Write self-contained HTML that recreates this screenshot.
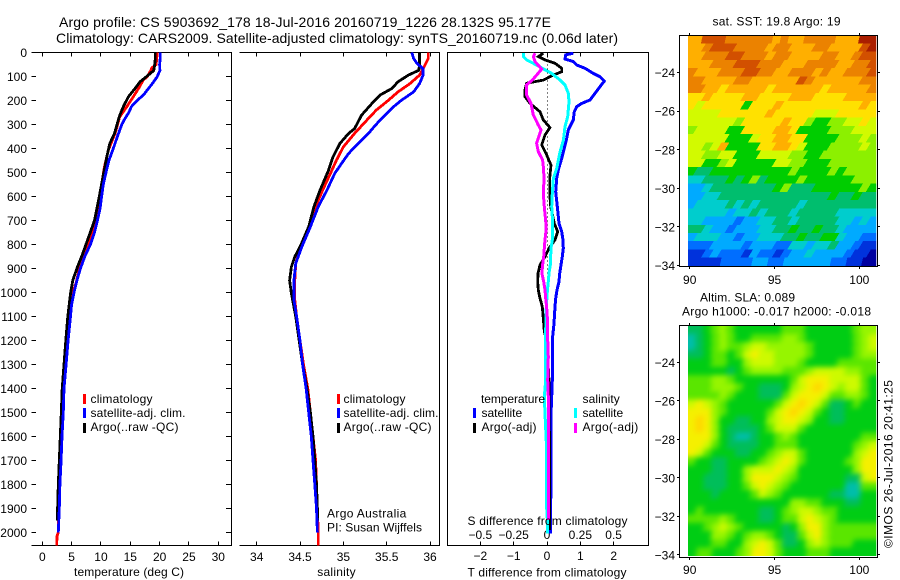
<!DOCTYPE html>
<html>
<head>
<meta charset="utf-8">
<title>Argo profile</title>
<style>
html,body{margin:0;padding:0;background:#fff;}
svg{display:block;}
text{font-family:"Liberation Sans",sans-serif;font-size:12px;fill:#000;}
.t14{font-size:14px;}
</style>
</head>
<body>
<svg id="chart" width="900" height="580" viewBox="0 0 900 580" xmlns="http://www.w3.org/2000/svg">
  <defs>
    <clipPath id="sst-clip"><rect x="688" y="36" width="188.3" height="230"/></clipPath>
    <clipPath id="sla-clip"><rect x="688" y="326" width="188.3" height="230"/></clipPath>
    <filter id="sla-blur" filterUnits="userSpaceOnUse" x="660" y="300" width="240" height="280" color-interpolation-filters="sRGB"><feGaussianBlur stdDeviation="2.6"/></filter>
  </defs>
  <text class="t14" x="59" y="27" textLength="492" lengthAdjust="spacing">Argo profile: CS 5903692_178 18-Jul-2016 20160719_1226 28.132S 95.177E</text>
  <text class="t14" x="56" y="43" textLength="562" lengthAdjust="spacing">Climatology: CARS2009. Satellite-adjusted climatology: synTS_20160719.nc (0.06d later)</text>

  <g id="frames" stroke="#000" stroke-width="1" fill="none" shape-rendering="crispEdges">
    <path d="M31.5 52.5H231.5V545.5H31.5"/>
    <path d="M239.5 52.5H439.5V545.5H239.5"/>
    <path d="M447.5 52.5H648.5V545.5H447.5Z"/>
    <path d="M679.5 35.5H877.5V266.5H679.5Z"/>
    <path d="M679.5 325.5H877.5V557.5H679.5Z"/>
  </g>
  <g id="layer-maps">
    <g clip-path="url(#sst-clip)"><g id="sst-cells"></g></g>
    <g clip-path="url(#sla-clip)"><g id="sla-cells" filter="url(#sla-blur)"></g></g>
  </g>
  <g id="layer-ticks"></g>
  <g id="layer-series"></g>

  <text x="74" y="576" textLength="110" lengthAdjust="spacing">temperature (deg C)</text>
  <text x="317.3" y="576" textLength="38.3" lengthAdjust="spacing">salinity</text>
  <text x="467.5" y="525" textLength="160" lengthAdjust="spacing">S difference from climatology</text>
  <text x="467.5" y="576.5" textLength="159" lengthAdjust="spacing">T difference from climatology</text>

  <g>
    <rect x="83" y="394" width="3" height="10" fill="#ff0000"/>
    <text x="90.5" y="403" textLength="62" lengthAdjust="spacing">climatology</text>
    <rect x="83" y="408" width="3" height="10" fill="#0000ff"/>
    <text x="90.5" y="417" textLength="95" lengthAdjust="spacing">satellite-adj. clim.</text>
    <rect x="83" y="423" width="3" height="10" fill="#000"/>
    <text x="90.5" y="431" textLength="88" lengthAdjust="spacing">Argo(..raw -QC)</text>
  </g>
  <g>
    <rect x="337" y="394" width="3" height="10" fill="#ff0000"/>
    <text x="343.5" y="403" textLength="62" lengthAdjust="spacing">climatology</text>
    <rect x="337" y="408" width="3" height="10" fill="#0000ff"/>
    <text x="343.5" y="417" textLength="95" lengthAdjust="spacing">satellite-adj. clim.</text>
    <rect x="337" y="423" width="3" height="10" fill="#000"/>
    <text x="343.5" y="431" textLength="88" lengthAdjust="spacing">Argo(..raw -QC)</text>
  </g>
  <text x="327" y="517.5" textLength="79.3" lengthAdjust="spacing">Argo Australia</text>
  <text x="327" y="531.5" textLength="95" lengthAdjust="spacing">PI: Susan Wijffels</text>

  <g>
    <text x="481" y="403" textLength="64" lengthAdjust="spacing">temperature</text>
    <rect x="473" y="408" width="3" height="10" fill="#0000ff"/>
    <text x="481.5" y="417" textLength="40.7" lengthAdjust="spacing">satellite</text>
    <rect x="473" y="423" width="3" height="10" fill="#000"/>
    <text x="481.5" y="431" textLength="55" lengthAdjust="spacing">Argo(-adj)</text>
    <text x="582.5" y="403" textLength="37.3" lengthAdjust="spacing">salinity</text>
    <rect x="574" y="408" width="3" height="10" fill="#00ffff"/>
    <text x="582.5" y="417" textLength="40.7" lengthAdjust="spacing">satellite</text>
    <rect x="574" y="423" width="3" height="10" fill="#ff00ff"/>
    <text x="582.5" y="431" textLength="55.7" lengthAdjust="spacing">Argo(-adj)</text>
  </g>

  <text x="712.5" y="25.5" textLength="128" lengthAdjust="spacing">sat. SST: 19.8 Argo: 19</text>
  <text x="700" y="301.5" textLength="95" lengthAdjust="spacing">Altim. SLA: 0.089</text>
  <text x="682" y="315.5" textLength="189" lengthAdjust="spacing">Argo h1000: -0.017 h2000: -0.018</text>
  <text transform="translate(892.5 548) rotate(-90)" textLength="168" lengthAdjust="spacing">©IMOS 26-Jul-2016 20:41:25</text>
</svg>

<script>
// ---- tick labels ----
var depthTicks = [0,100,200,300,400,500,600,700,800,900,1000,1100,1200,1300,1400,1500,1600,1700,1800,1900,2000];
var tempTicks = [0,5,10,15,20,25,30];
var salTicks = [34,34.5,35,35.5,36];
var tDiffTicks = [-2,-1,0,1,2];
var sDiffTicks = [-0.5,-0.25,0,0.25,0.5];
var lonTicks = [90,95,100];
var latTicks = [-24,-26,-28,-30,-32,-34];

// ---- temperature profiles (depth m, deg C) ----
var tempClimDepth = [0,50,65,75,100,115,146,185,226,268,337,407,476,615,685,754,824,893,962,1001,1100,1200,1300,1400,1500,1600,1700,1800,1900,2000,2015,2054];
var tempClim = [19.6,19.4,18.65,18.5,17.9,17.2,16.5,15.5,14.4,13.2,12.4,11.25,10.6,9.66,9.26,8.4,7.55,6.4,5.74,5.17,4.6,4.2,3.85,3.6,3.4,3.2,3.1,2.95,2.8,2.73,2.5,2.45];
var tempSatDepth = [0,25,50,75,100,125,150,175,200,225,250,275,300,350,400,450,500,550,600,650,700,750,800,850,900,950,1000,1050,1100,1200,1300,1400,1500,1600,1700,1800,1900,2000];
var tempSat = [20.1,20.1,20.0,20.05,19.6,18.9,18.1,17.3,16.2,15.2,14.75,14.1,13.55,12.8,12.1,11.35,10.85,10.4,10.1,9.85,9.4,8.9,8.2,7.25,6.5,5.9,5.4,5.0,4.8,4.4,4.05,3.7,3.58,3.35,3.2,3.0,2.9,2.72];
var tempArgoDepth = [0,25,50,75,94,122,150,185,226,268,337,379,435,504,615,700,837,893,949,1004,1100,1200,1300,1400,1500,1600,1700,1800,1900,1950];
var tempArgo = [19.26,19.26,19.15,19.0,18.07,16.65,15.8,14.66,13.8,13.1,12.3,11.5,11,10.45,9.6,8.9,6.9,6,5.2,4.8,4.35,4,3.7,3.4,3.24,3.07,2.9,2.73,2.6,2.55];

// ---- salinity profiles ----
var salClimDepth = [0,25,60,94,129,164,199,240,282,337,393,449,504,574,643,726,810,879,949,1032,1100,1200,1300,1400,1500,1600,1700,1800,1900,2000,2054];
var salClim = [35.98,35.98,35.93,35.88,35.77,35.63,35.52,35.38,35.27,35.13,35.0,34.92,34.85,34.76,34.68,34.6,34.51,34.45,34.44,34.44,34.46,34.5,34.54,34.59,34.62,34.65,34.68,34.69,34.7,34.71,34.71];
var salSatDepth = [0,25,46,67,94,129,164,199,226,261,303,337,379,421,462,504,574,643,726,810,879,949,1032,1100,1200,1300,1400,1500,1600,1700,1800,1900,2000];
var salSat = [35.79,35.81,35.85,35.92,35.92,35.88,35.81,35.67,35.58,35.48,35.37,35.29,35.17,35.06,34.98,34.9,34.81,34.71,34.62,34.52,34.45,34.43,34.43,34.46,34.5,34.53,34.57,34.6,34.63,34.65,34.67,34.69,34.7];
var salArgoDepth = [0,50,74,94,122,150,178,212,261,317,337,379,435,490,574,643,726,810,851,893,949,1004,1100,1200,1300,1400,1500,1600,1700,1800,1900,1950];
var salArgo = [35.88,35.88,35.87,35.75,35.63,35.56,35.42,35.33,35.21,35.13,35.06,34.96,34.88,34.83,34.73,34.66,34.6,34.5,34.44,34.40,34.38,34.4,34.45,34.49,34.53,34.58,34.62,34.65,34.67,34.69,34.70,34.705];

// ---- differences from climatology ----
var tDiffSatDepth = [3,10,27,38,52,66,87,101,119,142,170,198,212,226,247,281,323,358,399,441,490,524,580,642,712,747,781,816,851,885,920,955,990,1024,1059,1129,1198,1365,1434,1504,1781,2004];
var tDiffSat = [0.79,0.56,0.54,0.79,0.89,1.14,1.39,1.59,1.72,1.59,1.44,1.29,1.04,0.89,0.82,0.79,0.64,0.59,0.52,0.44,0.34,0.29,0.26,0.31,0.36,0.44,0.48,0.49,0.46,0.42,0.38,0.36,0.30,0.26,0.24,0.21,0.16,0.16,0.14,0.12,0.12,0.10];
var tDiffArgoDepth = [3,17,31,45,66,80,97,115,128,156,184,212,247,281,313,344,385,427,469,524,587,642,712,747,781,816,851,885,920,955,990,1024,1059,1129,1163,1198,1267,1365,1781,1990];
var tDiffArgo = [-0.11,-0.26,-0.06,0.24,0.44,0.44,0.14,-0.11,-0.61,-0.66,-0.66,-0.51,-0.21,-0.11,0.09,-0.06,-0.16,-0.01,0.12,0.08,0.08,0.11,0.22,0.32,0.24,0.06,-0.06,-0.21,-0.27,-0.28,-0.26,-0.21,-0.14,-0.10,-0.08,-0.01,0.02,0.06,0.08,0.08];
var sDiffSatDepth = [3,17,31,45,68,87,115,135,170,205,267,309,365,413,483,524,587,642,712,747,781,816,885,920,955,990,1059,1129,1198,1267,1365,1434,1504,1650,1893,1948,2004];
var sDiffSat = [-0.178,-0.178,-0.153,-0.103,-0.028,0.035,0.098,0.135,0.16,0.165,0.155,0.135,0.123,0.098,0.073,0.048,0.04,0.035,0.043,0.043,0.04,0.03,0.025,0.015,0.01,0.003,-0.005,-0.008,-0.013,-0.01,-0.01,-0.02,-0.015,-0.003,-0.003,0.003,0.003];
var sDiffArgoDepth = [3,17,38,69,94,115,135,177,212,260,302,323,378,413,448,490,538,587,642,712,747,781,816,851,885,920,955,990,1024,1059,1129,1198,1267,1365,1434,1504,1700,1948];
var sDiffArgo = [-0.09,-0.103,-0.09,-0.04,-0.078,-0.11,-0.153,-0.153,-0.12,-0.103,-0.065,-0.045,-0.078,-0.065,-0.033,-0.025,-0.023,-0.028,-0.02,-0.008,-0.008,-0.015,-0.02,-0.025,-0.033,-0.038,-0.025,-0.015,-0.01,-0.003,0.005,0.005,0.01,0.005,0.01,0.013,0.01,0.01];
var zeroLineDepth = [0,1300];

// ---- map data: binned SST and SLA, rows north to south ----
var sstBins = [
[10,10,12,12,12,11,11,11,11,11,11,10,11,10,10,11,11,11,11,10,10,10,13,13],
[10,10,11,12,12,12,11,11,11,11,10,11,11,10,10,10,11,11,10,10,10,10,12,13],
[10,10,11,11,11,12,12,11,11,11,10,11,11,10,10,10,10,11,11,10,10,11,12,12],
[10,10,10,11,11,11,12,12,12,11,11,11,10,10,10,11,11,11,11,10,10,11,11,12],
[11,10,10,10,11,11,11,12,12,11,11,10,10,11,11,11,10,11,10,10,11,11,11,12],
[11,11,10,10,10,10,11,11,10,10,10,10,10,10,12,11,10,10,10,10,10,10,11,11],
[11,11,10,10,9,10,10,10,10,10,9,10,10,10,10,10,10,9,10,10,10,10,10,11],
[9,9,10,9,9,9,9,10,10,9,9,9,9,10,10,10,9,9,9,9,10,10,10,10],
[9,8,9,9,9,9,9,6,9,9,9,10,9,9,9,9,9,9,9,9,9,9,10,9],
[8,8,8,8,9,9,9,9,9,9,10,9,9,9,9,9,8,8,8,9,9,9,9,9],
[8,8,8,8,8,8,7,9,9,9,9,9,10,9,9,7,6,6,7,7,8,8,9,8],
[7,8,8,8,8,6,6,9,9,9,9,10,10,9,6,6,6,6,7,7,7,8,8,8],
[8,8,8,8,8,6,6,6,8,9,9,10,10,9,9,6,6,6,6,7,7,7,8,7],
[8,8,7,8,10,6,6,6,6,9,9,10,10,9,8,6,6,6,7,7,7,7,8,7],
[8,8,7,7,8,8,6,6,6,8,8,8,8,7,7,6,6,7,7,7,7,7,7,7],
[8,8,6,6,7,8,6,6,6,6,6,8,8,7,7,6,6,6,7,7,7,7,7,7],
[6,5,5,6,6,6,6,6,6,6,6,6,6,7,6,6,6,6,7,6,7,7,7,7],
[4,4,5,5,5,6,5,6,7,5,6,6,6,6,7,6,6,6,6,6,6,7,7,7],
[3,3,4,5,5,5,5,5,5,5,5,6,7,5,5,5,6,6,6,6,6,6,7,6],
[3,3,4,4,5,5,5,5,5,5,5,5,5,5,5,5,5,5,6,5,5,6,5,5],
[3,4,4,4,4,5,4,5,4,5,5,5,5,5,4,5,5,5,5,5,5,5,5,5],
[4,4,4,4,4,3,4,4,5,4,5,5,5,4,5,5,5,5,5,4,4,4,4,4],
[4,4,3,3,3,3,2,3,3,4,4,5,5,4,5,5,5,5,5,4,4,3,4,3],
[5,5,4,3,3,2,3,3,3,4,4,5,5,6,5,5,6,5,5,4,3,3,3,3],
[3,4,4,4,3,3,2,3,3,4,4,4,5,5,6,5,5,6,6,4,3,3,2,2],
[2,2,2,3,3,3,3,2,3,3,3,2,2,4,4,3,4,4,5,3,3,2,1,1],
[1,1,2,3,2,2,2,1,3,2,2,1,2,3,3,4,3,3,3,3,2,1,1,0],
[1,1,1,1,2,2,2,2,3,3,2,2,3,3,3,3,3,3,2,2,1,1,0,0]
];
var slaBins = [
[1,1,2,3,4,3,2,2,2,2,2,2,3,3,3,2,2,2,2,2,2,3,4,4],
[0,1,2,3,4,3,2,2,3,3,3,3,4,4,3,2,2,2,2,2,2,3,4,5],
[0,1,2,3,4,3,3,4,5,5,4,4,4,4,4,3,2,2,2,2,2,3,4,5],
[1,1,2,3,3,2,3,5,6,5,5,4,4,4,4,3,2,2,2,2,2,3,4,4],
[2,2,2,3,3,2,2,4,5,5,5,4,4,4,3,2,2,2,2,3,3,3,3,3],
[2,2,2,2,2,1,2,3,4,4,4,4,3,3,3,4,5,5,5,5,4,4,3,3],
[3,3,3,4,4,3,2,2,2,2,2,2,2,3,5,6,6,6,5,5,5,5,3,2],
[3,3,3,4,4,4,3,2,2,1,1,1,2,4,5,6,7,6,5,4,5,5,3,2],
[3,3,3,3,4,3,2,2,2,1,1,1,3,5,6,6,6,5,3,3,4,4,3,2],
[5,6,5,4,3,2,2,2,2,2,2,3,5,6,7,6,5,3,1,1,2,3,2,2],
[6,6,6,4,3,2,2,2,2,2,3,5,6,7,6,5,3,2,1,1,2,2,2,2],
[6,7,6,4,2,2,1,1,2,2,4,5,6,6,5,4,2,2,1,1,2,2,2,2],
[6,7,6,4,2,1,1,1,1,2,3,5,5,5,3,2,2,2,2,2,2,2,2,2],
[6,6,6,4,2,1,0,0,1,2,2,3,4,3,2,2,2,2,2,2,2,2,3,3],
[6,6,5,3,2,1,1,1,1,2,2,3,3,3,2,2,2,2,2,2,2,3,4,5],
[6,5,3,2,2,2,1,1,2,2,3,4,5,5,3,2,2,2,2,2,2,4,5,6],
[3,2,2,1,1,2,2,2,2,3,4,5,6,5,3,2,2,2,2,2,3,4,6,6],
[2,2,2,1,1,2,2,4,5,5,5,6,5,4,2,2,2,2,2,2,2,4,6,6],
[2,2,1,1,1,2,2,4,6,6,6,5,4,3,2,2,2,2,2,2,1,1,5,6],
[2,2,1,1,1,2,2,3,5,6,5,4,3,2,2,2,2,2,2,2,0,0,3,3],
[2,2,2,1,2,2,2,2,3,5,4,3,2,2,2,2,2,2,1,1,0,0,2,2],
[2,2,2,2,2,2,2,2,2,2,2,2,2,4,4,3,3,2,2,2,1,1,2,2],
[2,3,2,2,2,2,2,2,2,1,1,2,3,4,5,5,4,3,3,2,2,2,2,2],
[3,3,3,3,4,3,2,2,2,1,1,2,3,3,5,6,5,4,3,2,2,2,2,2],
[2,2,3,4,5,4,3,2,2,2,2,2,1,2,4,6,6,4,3,3,3,3,3,3],
[2,2,2,4,4,3,2,3,4,4,3,2,1,1,3,5,6,4,3,3,3,3,3,3],
[2,2,2,3,3,2,2,4,5,6,5,3,1,1,2,4,5,4,3,3,3,2,2,2],
[2,3,3,2,2,2,3,4,6,6,5,3,2,2,2,3,3,3,2,2,2,2,2,2]
];

// ---- axis functions ----
function depthY(d){ return 52.5 + d * 0.24; }
function tempX(t){ return 42.3 + t * 5.867; }
function salX(s){ return 256.7 + (s - 34) * 86.67; }
function tDiffX(v){ return 547 + v * 33.33; }
function sDiffX(v){ return 547 + v * 133.3; }
function lonX(lon){ return 689.7 + (lon - 90) * 16.96; }
function sstLatY(lat){ return 72.7 + (-24 - lat) * 19.27; }
function slaLatY(lat){ return 362.3 + (-24 - lat) * 19.25; }

var NS = 'http://www.w3.org/2000/svg';
var sstLayer = document.getElementById('sst-cells');
var slaLayer = document.getElementById('sla-cells');
var tickLayer = document.getElementById('layer-ticks');
var seriesLayer = document.getElementById('layer-series');

function addTick(x1, y1, x2, y2){
  var el = document.createElementNS(NS, 'line');
  
  
  el.setAttribute('x1', x1); el.setAttribute('y1', y1);
  el.setAttribute('x2', x2); el.setAttribute('y2', y2);
  el.setAttribute('stroke', '#000');
  el.setAttribute('stroke-width', '1');
  el.setAttribute('shape-rendering', 'crispEdges');
  tickLayer.appendChild(el);
}
function addLabel(x, y, txt, anchor){
  var el = document.createElementNS(NS, 'text');
  
  
  el.setAttribute('x', x); el.setAttribute('y', y);
  el.setAttribute('text-anchor', anchor);
  el.textContent = String(txt).replace('-', '\u2212');
  tickLayer.appendChild(el);
}
function drawLine(depths, values, xFn, color, width, name){
  var pts = [];
  for (var i = 0; i < depths.length; i++) {
    pts.push(xFn(values[i]).toFixed(1) + ',' + depthY(depths[i]).toFixed(1));
  }
  var el = document.createElementNS(NS, 'polyline');
  
  
  el.setAttribute('points', pts.join(' '));
  el.setAttribute('fill', 'none');
  el.setAttribute('stroke', color);
  el.setAttribute('stroke-width', width);
  el.setAttribute('shape-rendering', 'crispEdges');
  seriesLayer.appendChild(el);
  return el;
}
// Cells are slanted so neighbouring values interlock in diagonal streaks.
function drawGrid(layer, grid, palette, yFn, latTop, latBottom, name, slant){
  var lonLeft = 89.88, lonRight = 101;
  var nr = grid.length, nc = grid[0].length;
  for (var r = 0; r < nr; r++) {
    for (var c = 0; c < nc; c++) {
      var x0 = lonX(lonLeft + (lonRight - lonLeft) * c / nc) - slant / 2;
      var x1 = lonX(lonLeft + (lonRight - lonLeft) * (c + 1) / nc) - slant / 2;
      var y0 = yFn(latTop + (latBottom - latTop) * r / nr);
      var y1 = yFn(latTop + (latBottom - latTop) * (r + 1) / nr);
      if (c === 0) { x0 -= 14; }
      if (c === nc - 1) { x1 += 14; }
      if (r === 0) { y0 -= 14; }
      if (r === nr - 1) { y1 += 14; }
      var el = document.createElementNS(NS, 'polygon');
      
      
      el.setAttribute('points',
        x0.toFixed(1) + ',' + y1.toFixed(1) + ' ' +
        (x0 + slant).toFixed(1) + ',' + y0.toFixed(1) + ' ' +
        (x1 + slant).toFixed(1) + ',' + y0.toFixed(1) + ' ' +
        x1.toFixed(1) + ',' + y1.toFixed(1));
      el.setAttribute('fill', palette[grid[r][c]]);
      el.setAttribute('shape-rendering', 'crispEdges');
      layer.appendChild(el);
    }
  }
}

// ---- colour scales ----
var sstPalette = ['#0000a0','#0032dc','#006eff','#00aaff','#00cdcd','#00be6e','#00cd00','#8cf000','#d2fa00','#ffe100','#ffaf00','#eb8200','#d25000','#aa1e00'];
var slaPalette = ['#00beaa','#00be5a','#00cd14','#5ae600','#96f500','#cdfa00','#f5f000','#ffd700'];

drawGrid(sstLayer, sstBins, sstPalette, sstLatY, -22.05, -34.03, 'sst-cell', 5);
drawGrid(slaLayer, slaBins, slaPalette, slaLatY, -22.1, -34.05, 'sla-cell', 3);

// ---- ticks ----
depthTicks.forEach(function(d){
  var y = Math.floor(depthY(d)) + 0.5;
  addTick(31.5, y, 36, y);
  addTick(226, y, 231.5, y);
  addLabel(27, depthY(d) + 4.5, d, 'end');
});
tempTicks.forEach(function(t){
  var x = Math.floor(tempX(t)) + 0.5;
  addTick(x, 52.5, x, 56.5);
  addTick(x, 541.5, x, 545.5);
  addLabel(tempX(t), 561, t, 'middle');
});
salTicks.forEach(function(s){
  var x = Math.floor(salX(s)) + 0.5;
  addTick(x, 52.5, x, 56.5);
  addTick(x, 541.5, x, 545.5);
  addLabel(salX(s), 561, s, 'middle');
});
tDiffTicks.forEach(function(v){
  var x = Math.floor(tDiffX(v)) + 0.5;
  addTick(x, 52.5, x, 56.5);
  addTick(x, 541.5, x, 545.5);
  addLabel(tDiffX(v), 560, v, 'middle');
});
sDiffTicks.forEach(function(v){
  addLabel(sDiffX(v), 539, v, 'middle');
});
lonTicks.forEach(function(lon){
  var x = Math.floor(lonX(lon)) + 0.5;
  addTick(x, 33, x, 35.5);
  addTick(x, 266.5, x, 269);
  addTick(x, 323, x, 325.5);
  addTick(x, 557.5, x, 560);
  addLabel(lonX(lon), 284, lon, 'middle');
  addLabel(lonX(lon), 574, lon, 'middle');
});
latTicks.forEach(function(lat){
  var y1 = Math.floor(sstLatY(lat)) + 0.5;
  addTick(677, y1, 679.5, y1);
  addTick(877.5, y1, 880, y1);
  addLabel(675, sstLatY(lat) + 4.5, lat, 'end');
  var y2 = Math.floor(slaLatY(lat)) + 0.5;
  addTick(677, y2, 679.5, y2);
  addTick(877.5, y2, 880, y2);
  addLabel(675, slaLatY(lat) + 4.5, lat, 'end');
});

// ---- series ----
drawLine(tempClimDepth, tempClim, tempX, '#ff0000', 2.8, 'temperature-climatology-line');
drawLine(tempArgoDepth, tempArgo, tempX, '#000000', 2.8, 'temperature-argo-line');
drawLine(tempSatDepth, tempSat, tempX, '#0000ff', 2.8, 'temperature-satellite-line');

drawLine(salClimDepth, salClim, salX, '#ff0000', 2.8, 'salinity-climatology-line');
drawLine(salArgoDepth, salArgo, salX, '#000000', 2.8, 'salinity-argo-line');
drawLine(salSatDepth, salSat, salX, '#0000ff', 2.8, 'salinity-satellite-line');

var zeroLine = drawLine(zeroLineDepth, [0,0], tDiffX, '#000000', 1, 'zero-difference-line');
zeroLine.setAttribute('stroke-dasharray', '1 3');
zeroLine.setAttribute('transform', 'translate(0.5 0)');
drawLine(tDiffSatDepth, tDiffSat, tDiffX, '#0000ff', 3, 't-difference-satellite-line');
drawLine(tDiffArgoDepth, tDiffArgo, tDiffX, '#000000', 2.8, 't-difference-argo-line');
drawLine(sDiffSatDepth, sDiffSat, sDiffX, '#00ffff', 3, 's-difference-satellite-line');
drawLine(sDiffArgoDepth, sDiffArgo, sDiffX, '#ff00ff', 3, 's-difference-argo-line');
</script>
</body>
</html>
